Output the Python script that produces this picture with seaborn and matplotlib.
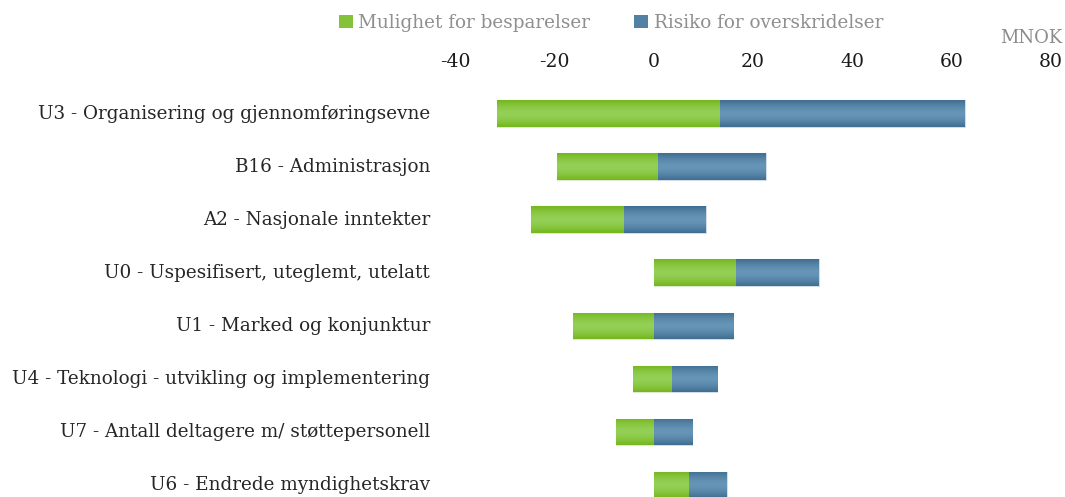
import numpy as np
import pandas as pd
import matplotlib
matplotlib.use("Agg")
import matplotlib.pyplot as plt
from matplotlib.patches import Patch
import seaborn as sns

categories = [
    "U3 - Organisering og gjennomføringsevne",
    "B16 - Administrasjon",
    "A2 - Nasjonale inntekter",
    "U0 - Uspesifisert, uteglemt, utelatt",
    "U1 - Marked og konjunktur",
    "U4 - Teknologi - utvikling og implementering",
    "U7 - Antall deltagere m/ støttepersonell",
    "U6 - Endrede myndighetskrav",
]
low = [-31.6, -19.4, -24.7, 0.0, -16.2, -4.2, -7.6, 0.0]
mid = [13.3, 0.9, -6.0, 16.6, 0.0, 3.6, 0.0, 7.2]
high = [62.6, 22.6, 10.5, 33.3, 16.0, 12.8, 7.7, 14.7]
series_names = ["Mulighet for besparelser", "Risiko for overskridelser"]
xticks = [-40, -20, 0, 20, 40, 60, 80]
unit_label = "MNOK"

df = pd.DataFrame({"cat": categories, "low": low, "mid": mid, "high": high})
df["w_green"] = df["mid"] - df["low"]
df["w_blue"] = df["high"] - df["mid"]

sns.set_theme(style="white")
plt.rcParams["font.family"] = ["DejaVu Serif"]

fig = plt.figure(figsize=(10.65, 4.97), dpi=100)
ax = fig.add_axes([455 / 1065, 0.0, (1051 - 455) / 1065, 1 - 87.2 / 497])

green_mid, green_edge = np.array([0x94, 0xd0, 0x56]) / 255, np.array([0x74, 0xb6, 0x1c]) / 255
blue_mid, blue_edge = np.array([0x66, 0x95, 0xb8]) / 255, np.array([0x40, 0x6d, 0x90]) / 255

sns.barplot(data=df, x="w_green", y="cat", left=df["low"].values, orient="y",
            color=tuple((green_mid + green_edge) / 2), width=0.5, errorbar=None,
            edgecolor="#dfe8d0", linewidth=0.8, saturation=1, ax=ax)
n_green = len(ax.patches)
sns.barplot(data=df, x="w_blue", y="cat", left=df["mid"].values, orient="y",
            color=tuple((blue_mid + blue_edge) / 2), width=0.5, errorbar=None,
            edgecolor="#d3dde8", linewidth=0.8, saturation=1, ax=ax)

ax.set_xlim(-40, 80)
ax.set_ylim(7.23, -0.5)

# vertical gradient fill inside each bar
t = np.linspace(0, 1, 64)
prof = 1 - np.abs(2 * t - 1) ** 1.6
for i, p in enumerate(list(ax.patches)):
    c0, c1 = (green_edge, green_mid) if i < n_green else (blue_edge, blue_mid)
    grad = c0[None, :] + (c1 - c0)[None, :] * prof[:, None]
    img = grad[:, None, :]
    x0, y0 = p.get_x(), p.get_y()
    w, h = p.get_width(), p.get_height()
    im = ax.imshow(img, extent=[x0, x0 + w, y0 + h, y0], aspect="auto",
                   interpolation="bilinear", zorder=p.get_zorder() + 0.1)
    im.set_clip_path(p)

ax.set_xlim(-40, 80)
ax.set_ylim(7.23, -0.5)
ax.set_xticks(xticks)
ax.set_xticklabels([str(v) for v in xticks])
ax.xaxis.tick_top()
ax.set_xlabel("")
ax.set_ylabel("")
for s in ax.spines.values():
    s.set_visible(False)
ax.tick_params(axis="x", length=0, pad=12, labelsize=13.5, colors="#1a1a1a")
ax.tick_params(axis="y", length=0, pad=18, labelsize=13.2, colors="#262626")
for lbl in ax.get_yticklabels():
    lbl.set_va("center")
ax.grid(False)

fig.text(1031 / 1065, 1 - 38 / 497, unit_label, ha="center", va="center",
         fontsize=13, color="#8c8c8c")

handles = [Patch(facecolor=tuple((green_mid + green_edge) / 2), edgecolor="none"),
           Patch(facecolor=tuple((blue_mid + blue_edge) / 2), edgecolor="none")]
leg = fig.legend(handles, series_names, loc="center left",
                 bbox_to_anchor=(339 / 1065, 1 - 23 / 497), ncol=2, frameon=False,
                 fontsize=13.2, handlelength=0.75, handleheight=0.75, handletextpad=0.3,
                 columnspacing=2.4, borderpad=0, borderaxespad=0)
for txt in leg.get_texts():
    txt.set_color("#8f8f8f")

fig.savefig("out.png", dpi=100)
